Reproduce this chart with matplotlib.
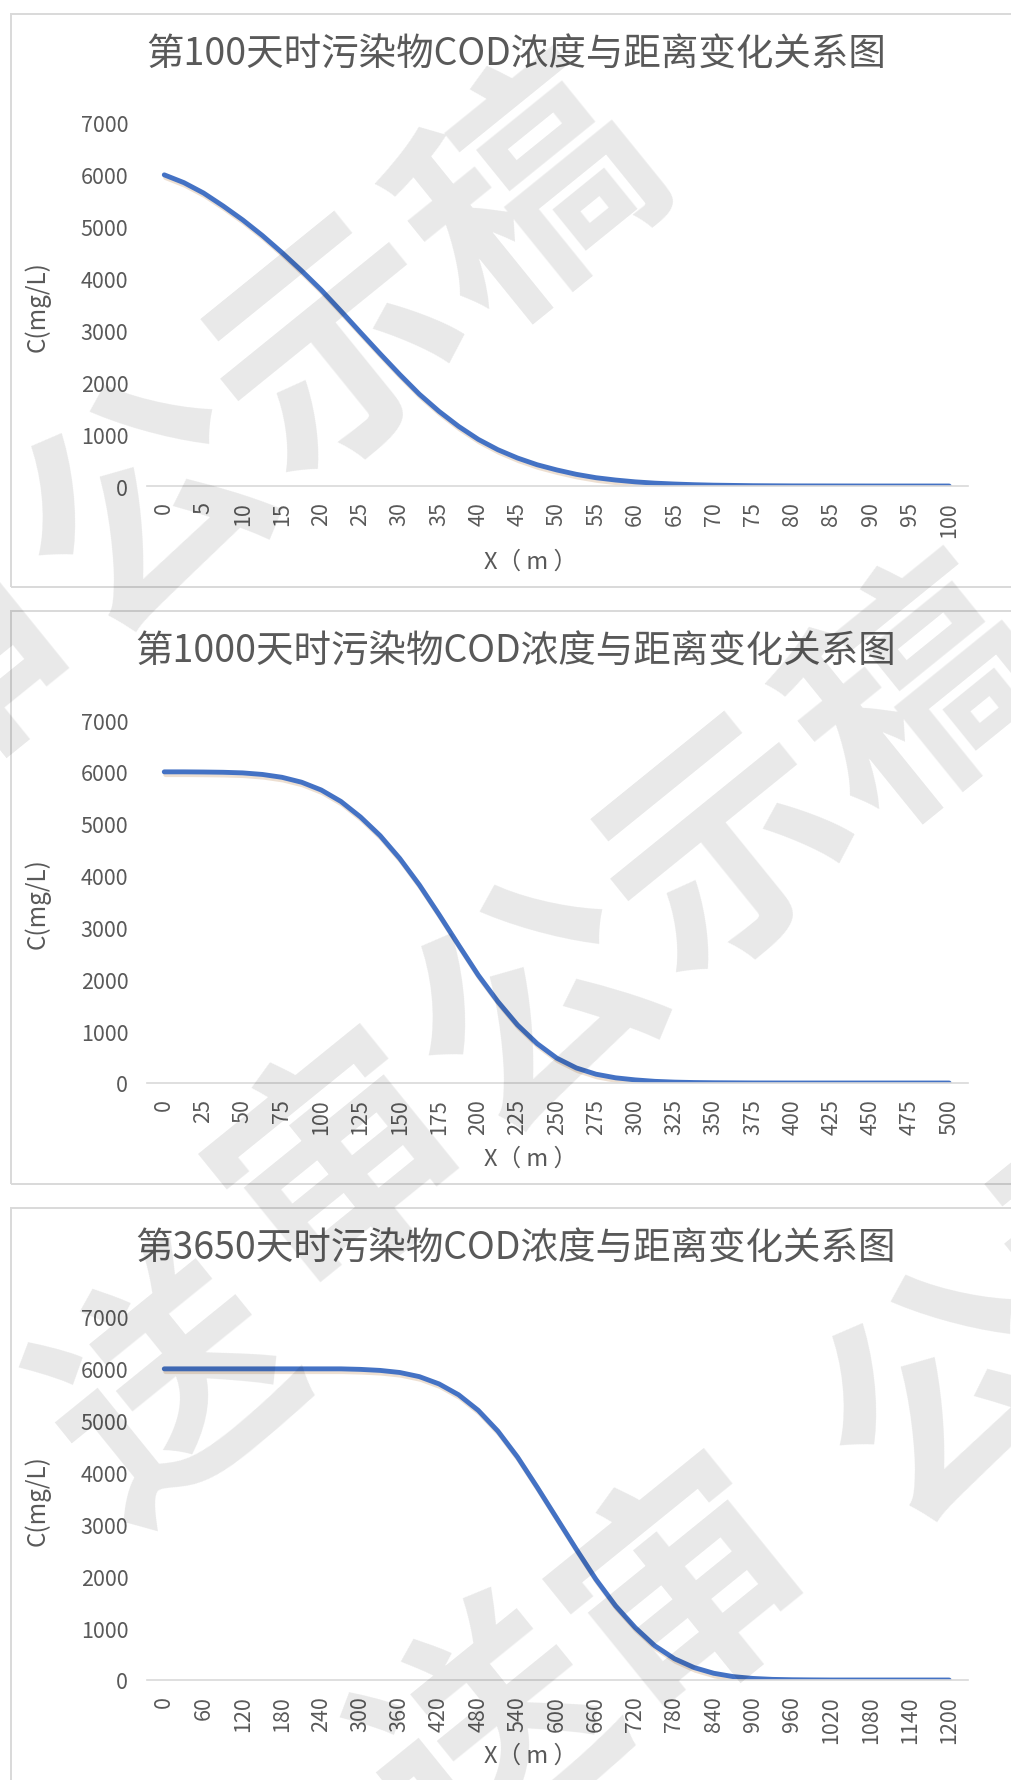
import matplotlib
matplotlib.use("Agg")
import matplotlib.pyplot as plt
import matplotlib.patheffects as pe
from matplotlib.patches import Rectangle

plt.rcParams['font.family'] = ['Noto Sans CJK SC', 'DejaVu Sans']

# COD concentration (mg/L) against distance (m) at three times
x100 = [0, 2.5, 5, 7.5, 10, 12.5, 15, 17.5, 20, 22.5, 25, 27.5, 30, 32.5, 35, 37.5,
        40, 42.5, 45, 47.5, 50, 52.5, 55, 57.5, 60, 62.5, 65, 67.5, 70, 75, 80, 85,
        90, 95, 100]
c100 = [6000, 5850, 5650, 5400, 5130, 4830, 4500, 4150, 3780, 3375, 2960, 2550,
        2150, 1770, 1440, 1150, 900, 700, 540, 410, 310, 225, 160, 115, 80, 55, 38,
        25, 16, 6, 2, 1, 0, 0, 0]

x1000 = [0, 12.5, 25, 37.5, 50, 62.5, 75, 87.5, 100, 112.5, 125, 137.5, 150, 162.5,
         175, 187.5, 200, 212.5, 225, 237.5, 250, 262.5, 275, 287.5, 300, 312.5, 325,
         337.5, 350, 375, 400, 425, 450, 475, 500]
c1000 = [6000, 6000, 5997, 5992, 5980, 5950, 5895, 5800, 5650, 5430, 5130, 4770,
         4330, 3820, 3250, 2660, 2080, 1570, 1120, 760, 480, 290, 170, 100, 60, 32,
         17, 9, 5, 1, 0, 0, 0, 0, 0]

x3650 = [0, 30, 60, 90, 120, 150, 180, 210, 240, 270, 300, 330, 360, 390, 420, 450,
         480, 510, 540, 570, 600, 630, 660, 690, 720, 750, 780, 810, 840, 870, 900,
         930, 960, 990, 1020, 1050, 1080, 1110, 1140, 1170, 1200]
c3650 = [6000, 6000, 6000, 6000, 6000, 6000, 6000, 6000, 6000, 6000, 5990, 5970,
         5930, 5850, 5710, 5500, 5200, 4800, 4300, 3720, 3120, 2520, 1940, 1430, 1010,
         660, 410, 240, 130, 65, 30, 12, 5, 2, 0, 0, 0, 0, 0, 0, 0]

days = [100, 1000, 3650]
series_x = [x100, x1000, x3650]
series_c = [c100, c1000, c3650]
tick_steps = [5, 25, 60]
x_max = [100, 500, 1200]
y_ticks = [0, 1000, 2000, 3000, 4000, 5000, 6000, 7000]

W, H = 1012, 1781
fig = plt.figure(figsize=(W / 100, H / 100), dpi=100)


def fx(px):
    return px / W


def fy(py):
    return 1 - py / H


GRAY = '#595959'
for k in range(3):
    dy = 597 * k
    # chart frame
    fig.patches.append(Rectangle((fx(11), fy(588 + dy)), fx(1040), (588 - 15) / H,
                                 transform=fig.transFigure, fill=False,
                                 edgecolor='#d9d9d9', lw=1.4))
    ax = fig.add_axes([fx(147), fy(487 + dy), fx(968) - fx(147), 363 / H])
    ax.patch.set_alpha(0)
    ax.plot(series_x[k], series_c[k], color='#4472C4', lw=3.5,
            solid_capstyle='round', solid_joinstyle='round',
            path_effects=[pe.SimpleLineShadow(offset=(1, -2), shadow_color='#b07030', alpha=0.22),
                          pe.Normal()])
    xm = x_max[k]
    ax.set_xlim(-0.022 * xm, 1.024 * xm)
    ax.set_ylim(0, 7000)
    ticks = list(range(0, xm + 1, tick_steps[k]))
    ax.set_xticks(ticks)
    ax.set_xticklabels([str(t) for t in ticks], rotation=90)
    ax.set_yticks(y_ticks)
    ax.set_yticklabels([str(t) for t in y_ticks])
    ax.tick_params(axis='both', length=0, labelsize=15.5, colors=GRAY)
    ax.tick_params(axis='y', pad=13.5)
    ax.tick_params(axis='x', pad=11)
    for s in ['top', 'right', 'left']:
        ax.spines[s].set_visible(False)
    ax.spines['bottom'].set_color('#d9d9d9')
    ax.spines['bottom'].set_linewidth(1.2)

    fig.text(fx(516), fy(55 + dy), '第%d天时污染物COD浓度与距离变化关系图' % days[k],
             ha='center', va='center', fontsize=27, color=GRAY)
    fig.text(fx(37), fy(307 + dy), 'C(mg/L)', rotation=90, ha='center', va='center',
             fontsize=17.5, color=GRAY)
    fig.text(fx(531), fy(562 + dy), 'X（ m ）', ha='center', va='center',
             fontsize=17, color=GRAY)

# diagonal stamp text across the page
stamp = [('审', -44, 665), ('公', 149, 510), ('示', 342, 355), ('稿', 535, 200),
         ('送', 176, 1395), ('审', 346, 1165), ('公', 539, 1010), ('示', 732, 855),
         ('稿', 925, 700),
         ('送', 497, 1745), ('审', 690, 1590), ('公', 950, 1400), ('示', 1126, 1220)]
for ch, px, py in stamp:
    fig.text(fx(px), fy(py), ch, rotation=39, rotation_mode='anchor',
             ha='center', va='center', fontsize=175, fontweight='bold',
             color='black', alpha=0.09, zorder=10)

fig.savefig('out.png', dpi=100)
